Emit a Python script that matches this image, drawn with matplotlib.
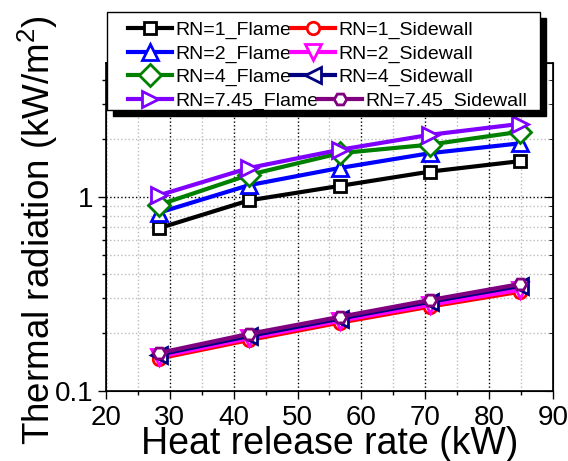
import numpy as np
import matplotlib.pyplot as plt
from matplotlib.patches import Rectangle
from matplotlib.ticker import FixedLocator, NullFormatter

plt.rcParams['font.family'] = ['Liberation Sans', 'DejaVu Sans']
plt.rcParams['mathtext.fontset'] = 'custom'
plt.rcParams['mathtext.rm'] = 'Liberation Sans'
plt.rcParams['mathtext.it'] = 'Liberation Sans:italic'

hrr = [28.3, 42.4, 56.6, 70.7, 84.9]

rn1_flame = [0.69, 0.96, 1.14, 1.35, 1.53]
rn1_side = [0.147, 0.183, 0.225, 0.272, 0.325]
rn2_flame = [0.83, 1.15, 1.41, 1.68, 1.89]
rn2_side = [0.150, 0.187, 0.230, 0.278, 0.333]
rn4_flame = [0.91, 1.30, 1.68, 1.86, 2.17]
rn4_side = [0.154, 0.192, 0.236, 0.288, 0.348]
rn745_flame = [1.02, 1.41, 1.75, 2.09, 2.38]
rn745_side = [0.157, 0.197, 0.241, 0.294, 0.356]

series = [
    ('RN=1_Flame', rn1_flame, 'black', 's'),
    ('RN=1_Sidewall', rn1_side, 'red', 'o'),
    ('RN=2_Flame', rn2_flame, 'blue', '^'),
    ('RN=2_Sidewall', rn2_side, 'magenta', 'v'),
    ('RN=4_Flame', rn4_flame, 'green', 'D'),
    ('RN=4_Sidewall', rn4_side, 'navy', '<'),
    ('RN=7.45_Flame', rn745_flame, '#8000ff', '>'),
    ('RN=7.45_Sidewall', rn745_side, 'purple', 'H'),
]

W, H = 568, 461
fig = plt.figure(figsize=(W / 100, H / 100), dpi=100)
ax = fig.add_axes([106 / W, 1 - 391 / H, 447 / W, 328 / H])

handles = {}
for i in [0, 2, 4, 6, 1, 3, 5, 7]:
    lab, y, c, m = series[i]
    ms = 9 if m in ('s', 'o', 'H') else 11
    h, = ax.plot(hrr, y, color=c, lw=3, marker=m, ms=ms, mfc='white',
                 mec=c, mew=2, label=lab)
    handles[i] = h

minor_y = [0.2, 0.3, 0.4, 0.5, 0.6, 0.7, 0.8, 0.9, 2, 3, 4]
ax.set_yscale('log')
ax.set_xlim(20, 90)
ax.set_ylim(0.1, 4.9)
ax.set_xticks(np.arange(20, 91, 10))
ax.xaxis.set_minor_locator(FixedLocator(np.arange(25, 90, 10)))
ax.set_yticks([0.1, 1])
ax.set_yticklabels(['0.1', '1'])
ax.yaxis.set_minor_locator(FixedLocator(minor_y))
ax.yaxis.set_minor_formatter(NullFormatter())

ax.grid(True, which='major', color='black', ls=':', lw=1)
ax.grid(True, which='minor', color='#bbbbbb', ls=':', lw=1)

ax.tick_params(which='both', labelsize=20, width=1, direction='out',
               top=False, right=False)
ax.tick_params(axis='x', pad=4)
ax.tick_params(axis='y', pad=3)
ax.tick_params(which='major', length=6)
ax.tick_params(which='minor', length=3)
for s in ax.spines.values():
    s.set_linewidth(1.2)

# inward ticks on the right side
ax2 = ax.twinx()
ax2.set_yscale('log')
ax2.set_ylim(ax.get_ylim())
ax2.set_yticks([0.1, 1])
ax2.yaxis.set_minor_locator(FixedLocator(minor_y))
ax2.tick_params(which='both', direction='in', labelright=False)
ax2.tick_params(which='major', length=6)
ax2.tick_params(which='minor', length=3)

ax.set_xlabel('Heat release rate (kW)', fontsize=27, va='baseline')
ax.xaxis.set_label_coords(0.5, -0.192)
ax.set_ylabel('Thermal radiation (kW/m$^2$)', fontsize=26.5,
              va='baseline', ha='center', rotation_mode='anchor')
ax.yaxis.set_label_coords(-0.125, 0.49)

# legend box with solid shadow
fx0, fy0, fw, fh = 107 / W, 1 - 110 / H, 433 / W, 98 / H
fig.patches.append(Rectangle((fx0 + 6 / W, fy0 - 6 / H), fw, fh,
                             transform=fig.transFigure, facecolor='black',
                             edgecolor='black', zorder=4))
fig.patches.append(Rectangle((fx0, fy0), fw, fh, transform=fig.transFigure,
                             facecolor='white', edgecolor='black', lw=1,
                             zorder=4.5))

# one legend per row, laid out like the original
row_y = [30.5, 54, 77.5, 101]
for r in range(4):
    hs = [handles[2 * r], handles[2 * r + 1]]
    labs = [series[2 * r][0], series[2 * r + 1][0]]
    fig.legend(hs, labs, ncol=2, fontsize=14, loc='center left',
               bbox_to_anchor=(128 / W, 1 - row_y[r] / H), frameon=False,
               handlelength=2.27, handletextpad=0.15, columnspacing=0.0,
               borderpad=0, borderaxespad=0)

fig.savefig('out.png', dpi=100)
